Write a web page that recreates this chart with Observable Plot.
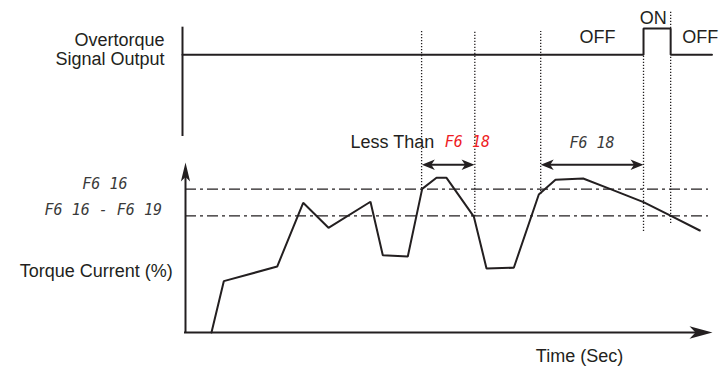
<!DOCTYPE html>
<html>
<head>
<meta charset="utf-8">
<script src="https://cdn.jsdelivr.net/npm/d3@7"></script>
<script src="https://cdn.jsdelivr.net/npm/@observablehq/plot@0.6"></script>
<style>
  html, body { margin: 0; padding: 0; background: #fff; }
  #chart svg { display: block; }
</style>
</head>
<body>
<div id="chart"></div>
<script>
// ---------- data (time in arbitrary units 0..100, torque in % of axis height) ----------
const torqueTime = [4.93, 7.27, 17.40, 22.33, 27.13, 35.10, 37.44, 42.18, 44.91, 47.63, 49.53,
                    54.71, 57.12, 62.30, 67.04, 70.21, 75.46, 80.65, 86.91, 92.03, 97.59];
const torquePct  = [0, 30.2, 38.8, 76.3, 61.6, 76.9, 45.5, 44.7, 84.5, 91.0, 91.0,
                    68.2, 37.7, 38.1, 81.2, 89.8, 90.6, 84.3, 76.7, 68.7, 60.0];

const thresholdLevels = [84.3, 68.6];            // F6-16 and F6-16 minus F6-19
const thresholdLabels = ["F6 16", "F6 16 - F6 19"];
const thresholdEnd = 99.24;

const signalOff = 163.4, signalOn = 178.8;      // signal panel levels (same vertical units)
const signalTime  = [-0.57, 86.91, 86.91, 92.06, 92.06, 99.9];
const signalState = [signalOff, signalOff, signalOn, signalOn, signalOff, signalOff];
const signalAxis = {t: -0.57, from: 115.3, to: 179.6};

const markerTime = [44.8, 54.9, 67.4, 86.91, 92.06, 92.06];
const markerFrom = [84.5, 68.2, 81.2, 59.4, 64.1, signalOn];
const markerTo   = [177.1, 177.1, 177.1, signalOff, signalOff, 189.4];

const intervalStart = [44.85, 67.4];
const intervalEnd   = [54.85, 86.91];
const intervalLevel = 98.65;

const stateLabels = ["OFF", "ON", "OFF"];
const stateTime   = [78.18, 88.75, 94.25];
const stateLevel  = [170.4, 181.6, 170.4];

// ---------- build tables ----------
const ink = "#231f20";
const sans = "'Liberation Sans', Arial, Helvetica, sans-serif";
const seg = "'DejaVu Sans Mono', monospace";

const torque = torqueTime.map((t, i) => ({t, v: torquePct[i]}));
const thresholds = thresholdLevels.map((v, i) => ({v, from: 0, to: thresholdEnd, label: thresholdLabels[i]}));
const signal = signalTime.map((t, i) => ({t, v: signalState[i]}));
const markers = markerTime.map((t, i) => ({t, from: markerFrom[i], to: markerTo[i]}));
const intervals = intervalStart.map((t1, i) => ({t1, t2: intervalEnd[i], v: intervalLevel}));
const states = stateLabels.map((s, i) => ({t: stateTime[i], v: stateLevel[i], s, anchor: i === 2 ? "start" : "middle"}));

// arrowhead symbols (tip at the data point)
const headUp = {draw(c) { c.moveTo(0, 0); c.lineTo(4.6, 19); c.lineTo(0, 14.5); c.lineTo(-4.6, 19); c.closePath(); }};
const headRight = {draw(c) { c.moveTo(0, 0); c.lineTo(-23, 6.2); c.lineTo(-17, 0); c.lineTo(-23, -6.2); c.closePath(); }};
const headRightSmall = {draw(c) { c.moveTo(0, 0); c.lineTo(-13, 5.2); c.lineTo(-9.5, 0); c.lineTo(-13, -5.2); c.closePath(); }};
const headLeftSmall = {draw(c) { c.moveTo(0, 0); c.lineTo(13, 5.2); c.lineTo(9.5, 0); c.lineTo(13, -5.2); c.closePath(); }};

const plot = Plot.plot({
  width: 719,
  height: 367,
  marginLeft: 185,
  marginRight: 7,
  marginTop: 162,
  marginBottom: 35,
  x: {domain: [0, 100], axis: null},
  y: {domain: [0, 100], axis: null},
  style: {background: "#fff", overflow: "visible"},
  marks: [
    // threshold dash-dot lines
    Plot.ruleY(thresholds, {y: "v", x1: "from", x2: "to", stroke: ink, strokeWidth: 1.3, strokeDasharray: "11,4,3,4"}),
    // dotted time markers
    Plot.ruleX(markers, {x: "t", y1: "from", y2: "to", stroke: ink, strokeWidth: 1.3, strokeDasharray: "1.3,1.7"}),
    // signal panel
    Plot.ruleX([signalAxis], {x: "t", y1: "from", y2: "to", stroke: ink, strokeWidth: 2}),
    Plot.line(signal, {x: "t", y: "v", stroke: ink, strokeWidth: 2, strokeLinejoin: "miter"}),
    // torque axes
    Plot.ruleX([{t: 0, from: 0, to: 91.6}], {x: "t", y1: "from", y2: "to", stroke: ink, strokeWidth: 2, strokeLinecap: "square"}),
    Plot.ruleY([{v: 0, from: 0, to: 96.8}], {y: "v", x1: "from", x2: "to", stroke: ink, strokeWidth: 2, strokeLinecap: "square"}),
    Plot.dot([{t: 0, v: 100}], {x: "t", y: "v", symbol: headUp, r: 5, fill: ink, stroke: "none"}),
    Plot.dot([{t: 100, v: 0}], {x: "t", y: "v", symbol: headRight, r: 5, fill: ink, stroke: "none"}),
    // torque current
    Plot.line(torque, {x: "t", y: "v", stroke: ink, strokeWidth: 2, strokeLinejoin: "miter"}),
    // interval arrows
    Plot.ruleY(intervals, {y: "v", x1: d => d.t1 + 1.3, x2: d => d.t2 - 1.3, stroke: ink, strokeWidth: 2}),
    Plot.dot(intervals, {x: "t1", y: "v", symbol: headLeftSmall, r: 5, fill: ink, stroke: "none"}),
    Plot.dot(intervals, {x: "t2", y: "v", symbol: headRightSmall, r: 5, fill: ink, stroke: "none"}),
    // sans texts
    Plot.text([{t: -3.98, v: 157.5, s: "Overtorque\nSignal Output"}], {x: "t", y: "v", text: "s", textAnchor: "end", lineAnchor: "bottom", lineHeight: 1.03, fontSize: 18, fontFamily: sans, fill: ink}),
    Plot.text([{t: -2.41, v: 32.5, s: "Torque Current (%)"}], {x: "t", y: "v", text: "s", textAnchor: "end", lineAnchor: "bottom", fontSize: 18, fontFamily: sans, fill: ink}),
    Plot.text([{t: 74.76, v: -17.06, s: "Time (Sec)"}], {x: "t", y: "v", text: "s", textAnchor: "middle", lineAnchor: "bottom", fontSize: 18, fontFamily: sans, fill: ink}),
    Plot.text([{t: 31.31, v: 108.6, s: "Less Than"}], {x: "t", y: "v", text: "s", textAnchor: "start", lineAnchor: "bottom", fontSize: 18, fontFamily: sans, fill: ink}),
    Plot.text(states.filter(d => d.anchor === "middle"), {x: "t", y: "v", text: "s", textAnchor: "middle", lineAnchor: "bottom", fontSize: 18, fontFamily: sans, fill: ink}),
    Plot.text(states.filter(d => d.anchor === "start"), {x: "t", y: "v", text: "s", textAnchor: "start", lineAnchor: "bottom", fontSize: 18, fontFamily: sans, fill: ink}),
    // parameter codes (segment-display style)
    Plot.text([thresholds[0]], {x: () => -15.3, y: "v", text: "label", textAnchor: "middle", lineAnchor: "bottom", fontSize: 15, fontStyle: "italic", fontFamily: seg, fill: "#3a3a3a", ariaLabel: "seg-a"}),
    Plot.text([thresholds[1]], {x: () => -15.6, y: d => d.v + 0.8, text: "label", textAnchor: "middle", lineAnchor: "bottom", fontSize: 15, fontStyle: "italic", fontFamily: seg, fill: "#3a3a3a", ariaLabel: "seg-b"}),
    Plot.text([{t: 49.2, v: 109.3, s: "F6 18"}], {x: "t", y: "v", text: "s", textAnchor: "start", lineAnchor: "bottom", fontSize: 15, fontStyle: "italic", fontFamily: seg, fill: "#ee1c24", ariaLabel: "seg-red"}),
    Plot.text([{t: 77.13, v: 108.8, s: "F6 18"}], {x: "t", y: "v", text: "s", textAnchor: "middle", lineAnchor: "bottom", fontSize: 15, fontStyle: "italic", fontFamily: seg, fill: "#3a3a3a", ariaLabel: "seg-c"})
  ]
});

const spacing = {"seg-a": 1.6, "seg-b": 0.75, "seg-red": 3, "seg-c": 1.6};
for (const [k, ls] of Object.entries(spacing)) {
  plot.querySelectorAll(`g[aria-label="${k}"] text`).forEach(t => t.setAttribute("letter-spacing", ls));
}
document.getElementById("chart").appendChild(plot);
</script>
</body>
</html>
